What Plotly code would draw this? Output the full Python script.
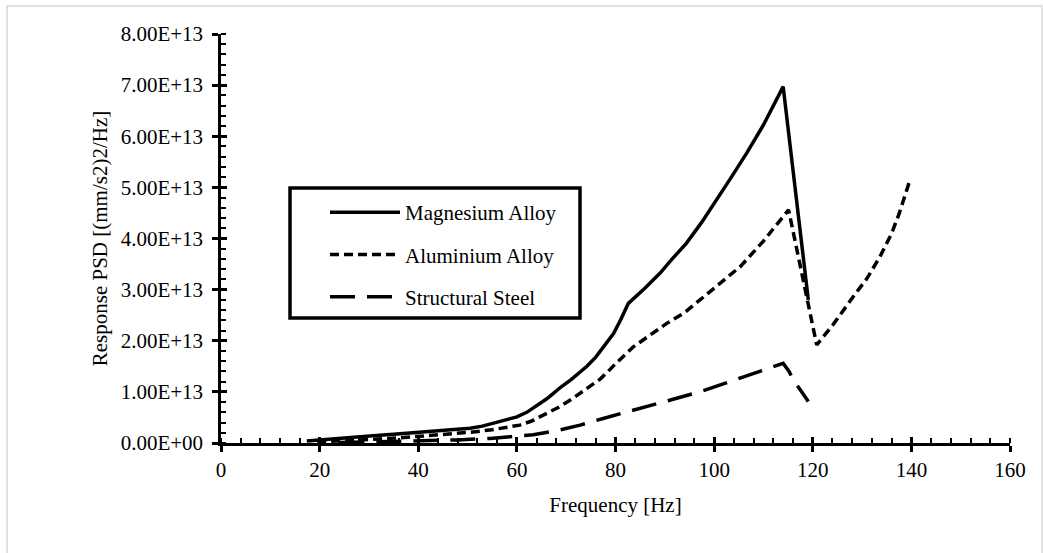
import plotly.graph_objects as go

# ---------------- data ----------------
mg_freq = [17.4, 22, 29.5, 36.3, 43, 50.5, 53, 56, 58, 60.0, 62, 64, 66, 67.4, 69, 71, 72.5, 74.2,
           76, 77.5, 79.6, 81, 82.6, 86, 89.0, 91.5, 94.4, 97.5, 100.5, 103.5, 106.6, 110, 114.0, 119.1]
mg_psd_e13 = [0.04, 0.08, 0.13, 0.18, 0.23, 0.29, 0.33, 0.40, 0.45, 0.51, 0.60, 0.72, 0.86, 0.97, 1.10,
              1.24, 1.36, 1.50, 1.68, 1.88, 2.14, 2.40, 2.73, 3.03, 3.32, 3.60, 3.91, 4.32, 4.75, 5.20,
              5.67, 6.22, 6.97, 2.80]

al_freq = [19.5, 25, 30, 36, 42, 47.3, 50.5, 55, 58, 60.6, 63, 65.5, 68.7, 71, 73, 75, 76.9, 78.5,
           80, 83.6, 87, 90.4, 94, 97.1, 101, 105.3, 110, 115.1, 120.8, 124, 128.2, 131, 133.6, 136,
           137.5, 139.6]
al_psd_e13 = [0.02, 0.04, 0.07, 0.10, 0.14, 0.18, 0.21, 0.26, 0.30, 0.35, 0.43, 0.55, 0.71, 0.85, 0.98,
              1.11, 1.25, 1.40, 1.55, 1.88, 2.10, 2.34, 2.55, 2.80, 3.10, 3.45, 3.95, 4.56, 1.92, 2.30,
              2.86, 3.22, 3.64, 4.10, 4.48, 5.11]

st_freq = [24, 30, 36, 42, 48, 54.6, 59, 63.3, 68, 72.8, 77.5, 82.3, 87.0, 92, 97.1, 102, 107.3,
           111, 114.0, 115.2, 116.1, 117.6, 119.1]
st_psd_e13 = [0.01, 0.02, 0.03, 0.04, 0.06, 0.09, 0.12, 0.16, 0.24, 0.35, 0.48, 0.61, 0.73, 0.86, 1.00,
              1.16, 1.33, 1.45, 1.56, 1.40, 1.23, 1.02, 0.81]

series_names = ["Magnesium Alloy", "Aluminium Alloy", "Structural Steel"]

x_ticks = [0, 20, 40, 60, 80, 100, 120, 140, 160]
y_tick_vals = [0, 1e13, 2e13, 3e13, 4e13, 5e13, 6e13, 7e13, 8e13]
y_tick_text = ["0.00E+00", "1.00E+13", "2.00E+13", "3.00E+13", "4.00E+13",
               "5.00E+13", "6.00E+13", "7.00E+13", "8.00E+13"]

x_title = "Frequency [Hz]"
y_title = "Response PSD [(mm/s2)2/Hz]"

# ---------------- figure ----------------
FONT = "Liberation Serif, Times New Roman, serif"
FS = 21

W, H = 1043, 553
L, R, T, B = 221, 33, 34, 110
PW, PH = W - L - R, H - T - B


def px_x(p):
    return (p - L) / PW


def px_y(p):
    return (H - B - p) / PH


fig = go.Figure()

styles = [
    dict(color="black", width=3.5, dash="solid"),
    dict(color="black", width=3.5, dash="9px,5px"),
    dict(color="black", width=3.5, dash="25px,12px"),
]
datasets = [(mg_freq, mg_psd_e13), (al_freq, al_psd_e13), (st_freq, st_psd_e13)]

for i, ((fx, fy), name) in enumerate(zip(datasets, series_names)):
    fig.add_trace(go.Scatter(
        x=fx, y=[v * 1e13 for v in fy], mode="lines", name=name,
        line=styles[i], legendgroup=f"g{i}",
    ))

# empty trace to activate overlay axes (inner halves of crossing major ticks)
fig.add_trace(go.Scatter(x=[], y=[], xaxis="x2", yaxis="y2", showlegend=False,
                         hoverinfo="skip"))

axis_common = dict(
    showgrid=False, zeroline=False, showline=True, linecolor="black", linewidth=2.5,
    ticks="outside", ticklen=6, tickwidth=2.5, tickcolor="black",
    tickfont=dict(family=FONT, size=FS, color="black"),
)

fig.update_layout(
    width=W, height=H,
    margin=dict(l=L, r=R, t=T, b=B, autoexpand=False),
    paper_bgcolor="white", plot_bgcolor="white",
    font=dict(family=FONT, size=FS, color="black"),
    xaxis=dict(
        range=[0, 160], tickvals=x_ticks, ticktext=[str(v) for v in x_ticks],
        title=dict(text=x_title, font=dict(family=FONT, size=FS), standoff=17),
        minor=dict(ticks="inside", ticklen=5, tickwidth=2, tickcolor="black", dtick=4, showgrid=False),
        **axis_common,
    ),
    yaxis=dict(
        range=[0, 8e13], tickvals=y_tick_vals, ticktext=y_tick_text,
        ticklabelstandoff=5,
        title=dict(text=y_title, font=dict(family=FONT, size=FS), standoff=8),
        minor=dict(ticks="inside", ticklen=5, tickwidth=2, tickcolor="black", dtick=2e12, showgrid=False),
        **axis_common,
    ),
    xaxis2=dict(range=[0, 160], overlaying="x", anchor="y", side="bottom",
                tickvals=x_ticks, showticklabels=False, ticks="inside", ticklen=6,
                tickwidth=2.5, tickcolor="black", showgrid=False, zeroline=False, showline=False),
    yaxis2=dict(range=[0, 8e13], overlaying="y", anchor="x", side="left",
                tickvals=y_tick_vals, showticklabels=False, ticks="inside", ticklen=6,
                tickwidth=2.5, tickcolor="black", showgrid=False, zeroline=False, showline=False),
    showlegend=True,
    legend=dict(
        x=px_x(325), y=px_y(192), xanchor="left", yanchor="top",
        bgcolor="rgba(0,0,0,0)", borderwidth=0,
        font=dict(family=FONT, size=FS, color="black"),
        traceorder="grouped", tracegroupgap=12, itemwidth=70,
    ),
    shapes=[
        # legend frame
        dict(type="rect", xref="paper", yref="paper",
             x0=px_x(290), x1=px_x(580), y0=px_y(318), y1=px_y(188),
             line=dict(color="black", width=3.5), fillcolor="rgba(0,0,0,0)", layer="above"),
        # chart area light border
        dict(type="rect", xref="paper", yref="paper",
             x0=px_x(7), x1=px_x(1042), y0=px_y(600), y1=px_y(6),
             line=dict(color="#d9d9d9", width=1.5), fillcolor="rgba(0,0,0,0)", layer="below"),
    ],
)

fig.write_html("out.html")
